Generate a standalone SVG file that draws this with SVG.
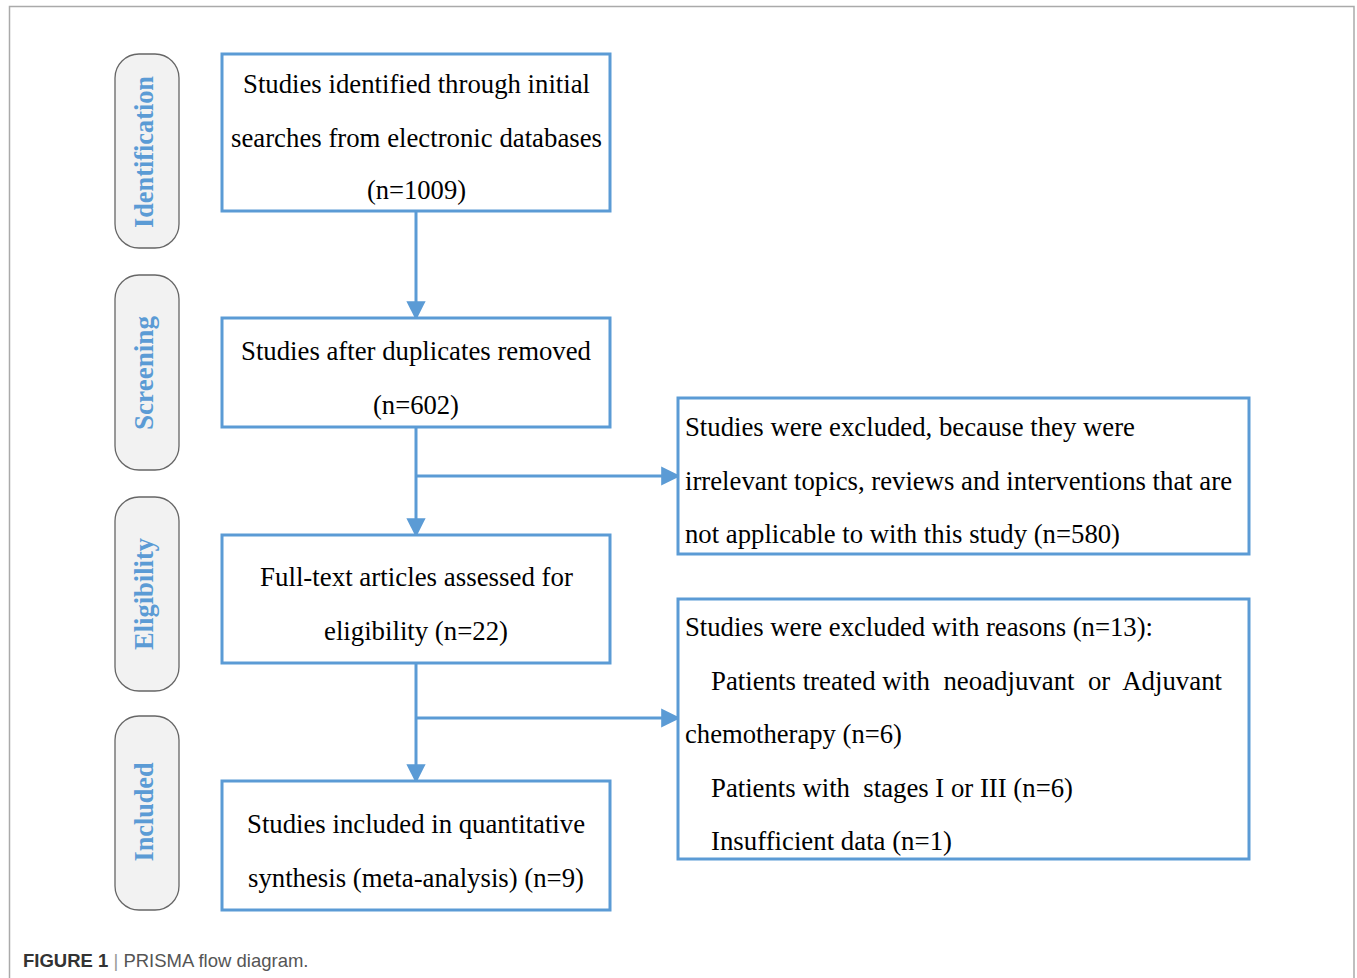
<svg xmlns="http://www.w3.org/2000/svg" width="1357" height="978" viewBox="0 0 1357 978">
<style>
.t{font-family:"Liberation Serif","Times New Roman",serif;font-size:28px;fill:#000}
.c{text-anchor:middle}
.box{fill:#fff;stroke:#5b9bd5;stroke-width:3}
.side{fill:#f2f2f2;stroke:#666;stroke-width:1.3}
.lab{font-family:"Liberation Serif","Times New Roman",serif;font-size:28px;font-weight:bold;fill:#5b9bd5;text-anchor:middle}
.con{stroke:#5b9bd5;stroke-width:3;fill:none}
</style>
<defs>
<marker id="ah" markerWidth="6.4" markerHeight="6.4" refX="5.6" refY="3.2" orient="auto" markerUnits="strokeWidth">
<path d="M0,0 L6.4,3.2 L0,6.4 z" fill="#5b9bd5"/>
</marker>
</defs>
<rect x="0" y="0" width="1357" height="978" fill="#fff"/>
<path d="M9.5,978 V6.5 H1354 V978" fill="none" stroke="#aaa" stroke-width="1.5"/>

<g id="stage-identification">
<rect class="side" x="115" y="54" width="64" height="194" rx="24"/>
<text class="lab" transform="translate(153,152) rotate(-90)" textLength="152" lengthAdjust="spacingAndGlyphs">Identification</text>
</g>
<g id="stage-screening">
<rect class="side" x="115" y="275" width="64" height="195" rx="24"/>
<text class="lab" transform="translate(153,373) rotate(-90)" textLength="114" lengthAdjust="spacingAndGlyphs">Screening</text>
</g>
<g id="stage-eligibility">
<rect class="side" x="115" y="497" width="64" height="194" rx="24"/>
<text class="lab" transform="translate(153,594) rotate(-90)" textLength="112" lengthAdjust="spacingAndGlyphs">Eligibility</text>
</g>
<g id="stage-included">
<rect class="side" x="115" y="716" width="64" height="194" rx="24"/>
<text class="lab" transform="translate(153,812) rotate(-90)" textLength="99" lengthAdjust="spacingAndGlyphs">Included</text>
</g>

<g id="connectors">
<line class="con" x1="416" y1="211" x2="416" y2="318" marker-end="url(#ah)"/>
<line class="con" x1="416" y1="427" x2="416" y2="535" marker-end="url(#ah)"/>
<line class="con" x1="416" y1="476" x2="678" y2="476" marker-end="url(#ah)"/>
<line class="con" x1="416" y1="663" x2="416" y2="781" marker-end="url(#ah)"/>
<line class="con" x1="416" y1="718" x2="678" y2="718" marker-end="url(#ah)"/>
</g>

<g id="identified">
<rect class="box" x="222" y="54" width="388" height="157"/>
<text class="t c" x="416.5" y="93" textLength="347" lengthAdjust="spacingAndGlyphs">Studies identified through initial</text>
<text class="t c" x="416.5" y="147" textLength="371" lengthAdjust="spacingAndGlyphs">searches from electronic databases</text>
<text class="t c" x="416.5" y="199" textLength="99" lengthAdjust="spacingAndGlyphs">(n=1009)</text>
</g>
<g id="deduplicated">
<rect class="box" x="222" y="318" width="388" height="109"/>
<text class="t c" x="416" y="360" textLength="350" lengthAdjust="spacingAndGlyphs">Studies after duplicates removed</text>
<text class="t c" x="416" y="414" textLength="86" lengthAdjust="spacingAndGlyphs">(n=602)</text>
</g>
<g id="fulltext">
<rect class="box" x="222" y="535" width="388" height="128"/>
<text class="t c" x="416.5" y="586" textLength="313" lengthAdjust="spacingAndGlyphs">Full-text articles assessed for</text>
<text class="t c" x="416" y="640" textLength="184" lengthAdjust="spacingAndGlyphs">eligibility (n=22)</text>
</g>
<g id="included">
<rect class="box" x="222" y="781" width="388" height="129"/>
<text class="t c" x="416" y="833" textLength="338" lengthAdjust="spacingAndGlyphs">Studies included in quantitative</text>
<text class="t c" x="416" y="887" textLength="336" lengthAdjust="spacingAndGlyphs">synthesis (meta-analysis) (n=9)</text>
</g>
<g id="excluded1">
<rect class="box" x="678" y="398" width="571" height="156"/>
<text class="t" x="685" y="436" textLength="450" lengthAdjust="spacingAndGlyphs">Studies were excluded, because they were</text>
<text class="t" x="685" y="490" textLength="547" lengthAdjust="spacingAndGlyphs">irrelevant topics, reviews and interventions that are</text>
<text class="t" x="685" y="543" textLength="435" lengthAdjust="spacingAndGlyphs">not applicable to with this study (n=580)</text>
</g>
<g id="excluded2">
<rect class="box" x="678" y="599" width="571" height="260"/>
<text class="t" x="685" y="636" textLength="468" lengthAdjust="spacingAndGlyphs">Studies were excluded with reasons (n=13):</text>
<text class="t" x="711" y="690" textLength="511" lengthAdjust="spacingAndGlyphs" xml:space="preserve">Patients treated with  neoadjuvant  or  Adjuvant</text>
<text class="t" x="685" y="743" textLength="217" lengthAdjust="spacingAndGlyphs">chemotherapy (n=6)</text>
<text class="t" x="711" y="797" textLength="362" lengthAdjust="spacingAndGlyphs" xml:space="preserve">Patients with  stages I or III (n=6)</text>
<text class="t" x="711" y="850" textLength="241" lengthAdjust="spacingAndGlyphs">Insufficient data (n=1)</text>
</g>

<g id="caption">
<text x="23" y="967" font-family="'Liberation Sans',Arial,sans-serif" font-size="18.5" fill="#555"><tspan font-weight="bold" fill="#333">FIGURE 1</tspan><tspan fill="#999">  |  </tspan>PRISMA flow diagram.</text>
</g>
</svg>
